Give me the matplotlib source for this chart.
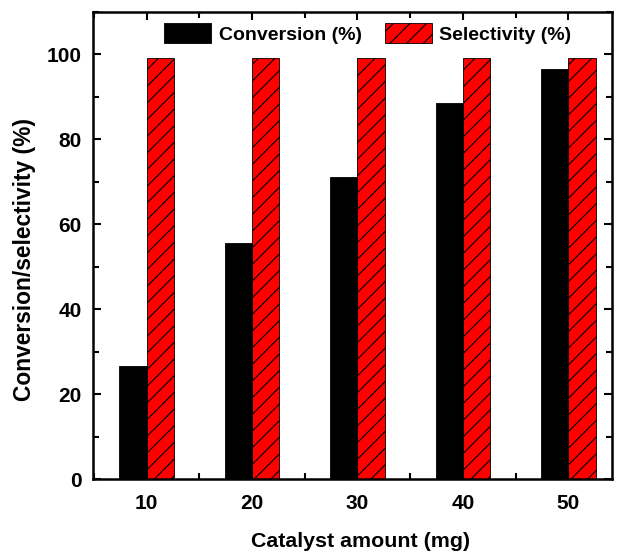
import matplotlib.pyplot as plt
import numpy as np
from matplotlib.ticker import MultipleLocator

amount = [10, 20, 30, 40, 50]
conversion = [26.7, 55.5, 71.0, 88.5, 96.5]
selectivity = [99.0, 99.0, 99.0, 99.0, 99.0]

plt.rcParams['font.family'] = ['Liberation Sans', 'DejaVu Sans']
plt.rcParams['font.weight'] = 'bold'
plt.rcParams['hatch.linewidth'] = 0.8

fig, ax = plt.subplots(figsize=(6.19, 5.52), dpi=100)
fig.subplots_adjust(left=0.15, right=0.988, top=0.979, bottom=0.132)

x = np.array(amount, dtype=float)
w = 2.6
ax.bar(x - w / 2, conversion, w, color='black', edgecolor='black', linewidth=0.6,
       label='Conversion (%)')
ax.bar(x + w / 2, selectivity, w, color='#ff0000', edgecolor='black', linewidth=0.6,
       hatch='//', label='Selectivity (%)')

ax.set_xlim(4.9, 54.1)
ax.set_ylim(0, 110)
ax.set_xticks(amount)
ax.xaxis.set_minor_locator(MultipleLocator(5))
ax.yaxis.set_major_locator(MultipleLocator(20))
ax.yaxis.set_minor_locator(MultipleLocator(10))
ax.tick_params(which='both', direction='in', top=True, right=True, width=1.5,
               labelsize=15)
ax.tick_params(axis='x', pad=11)
ax.tick_params(axis='y', pad=8)
ax.tick_params(which='major', length=6)
ax.tick_params(which='minor', length=4)
for s in ax.spines.values():
    s.set_linewidth(1.8)

ax.set_xlabel('Catalyst amount (mg)', fontsize=15.4, fontweight='bold')
ax.set_ylabel('Conversion/selectivity (%)', fontsize=16.4, fontweight='bold')
ax.xaxis.set_label_coords(0.517, -0.112)
ax.yaxis.set_label_coords(-0.11, 0.47)

ax.legend(loc='upper center', ncol=2, frameon=False, fontsize=14,
          handlelength=2.4, handleheight=1.2, handletextpad=0.4, columnspacing=1.2,
          bbox_to_anchor=(0.53, 1.0), borderaxespad=0.2)

plt.savefig('out.png', dpi=100)
